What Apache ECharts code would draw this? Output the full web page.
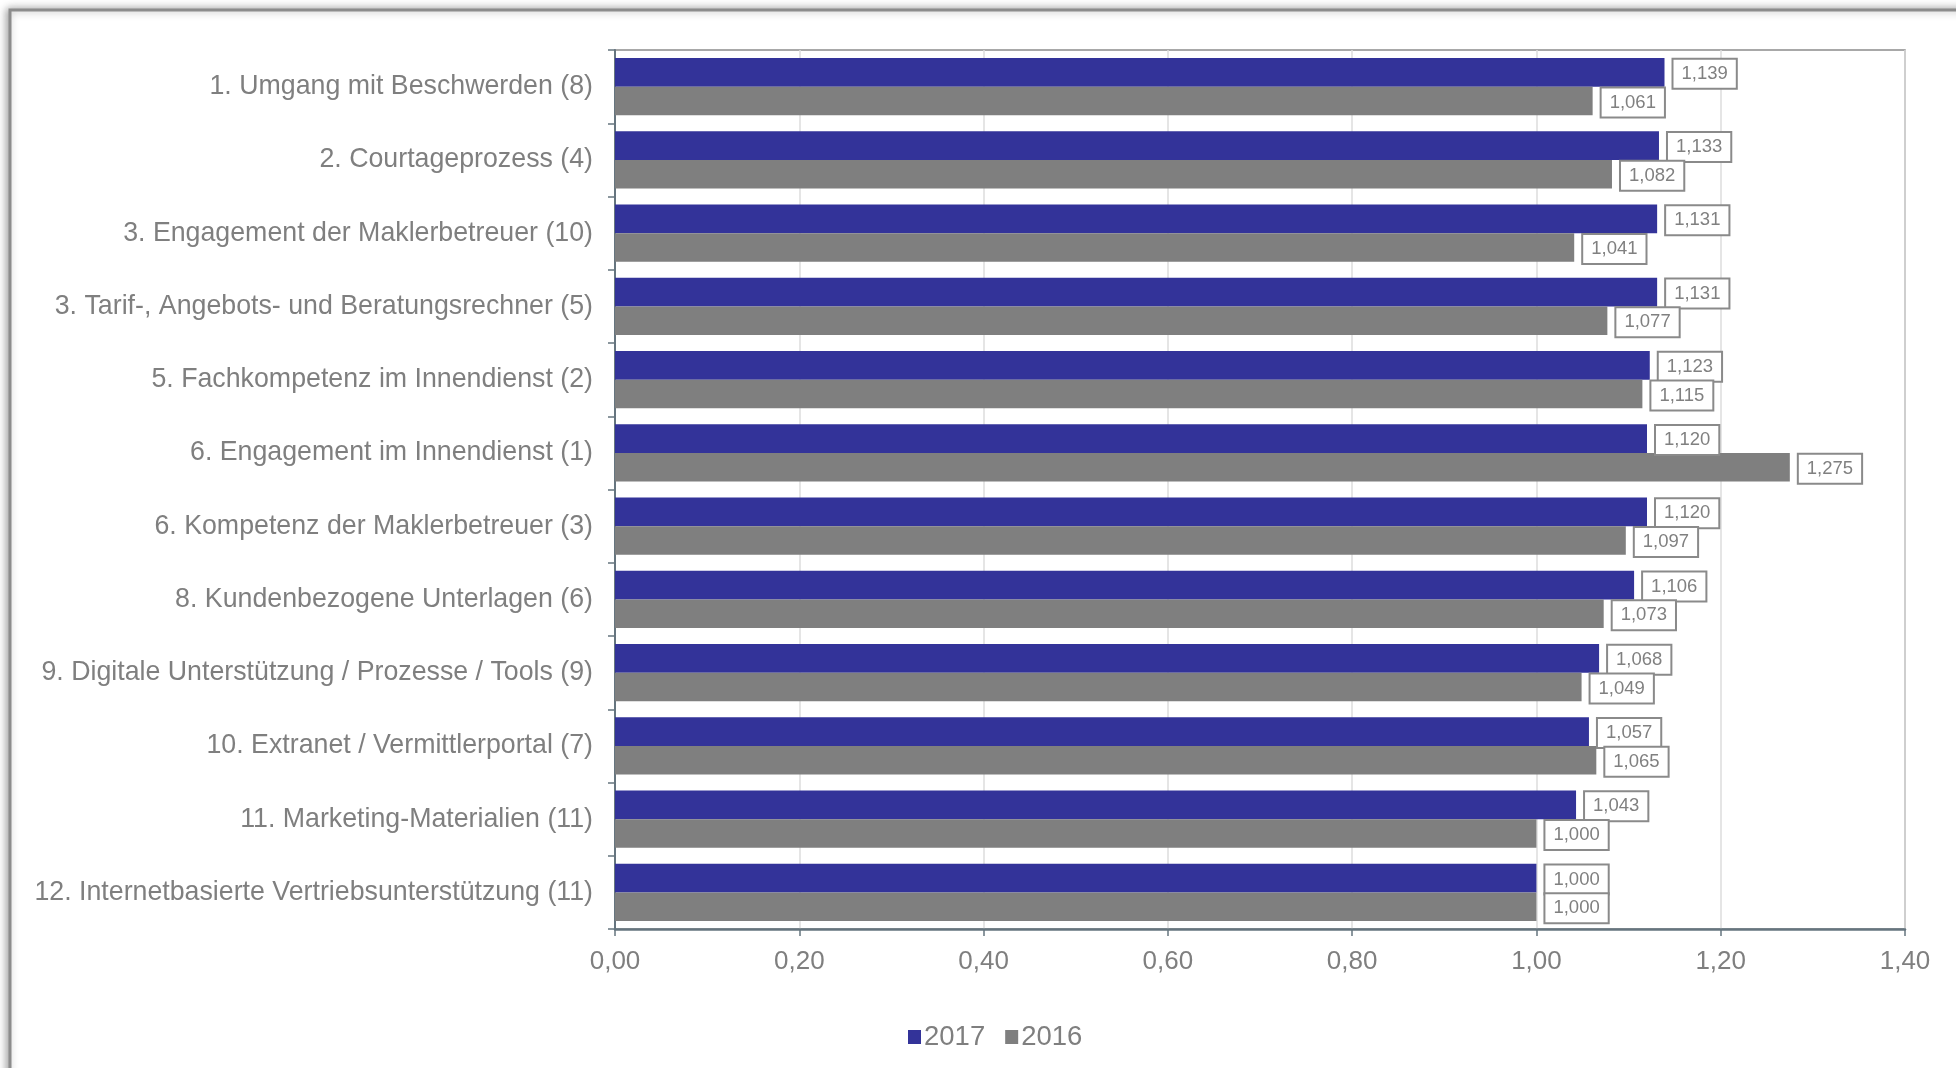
<!DOCTYPE html>
<html>
<head>
<meta charset="utf-8">
<script src="https://cdn.jsdelivr.net/npm/echarts@6/dist/echarts.min.js"></script>
<style>
html,body{margin:0;padding:0;background:#fff;}
#c{width:1956px;height:1068px;}
</style>
</head>
<body>
<div id="c"></div>
<script>
const categories = [
  "1. Umgang mit Beschwerden (8)",
  "2. Courtageprozess (4)",
  "3. Engagement der Maklerbetreuer (10)",
  "3. Tarif-, Angebots- und Beratungsrechner (5)",
  "5. Fachkompetenz im Innendienst (2)",
  "6. Engagement im Innendienst (1)",
  "6. Kompetenz der Maklerbetreuer (3)",
  "8. Kundenbezogene Unterlagen (6)",
  "9. Digitale Unterstützung / Prozesse / Tools (9)",
  "10. Extranet / Vermittlerportal (7)",
  "11. Marketing-Materialien (11)",
  "12. Internetbasierte Vertriebsunterstützung (11)"
];
const values2017 = [1.139, 1.133, 1.131, 1.131, 1.123, 1.120, 1.120, 1.106, 1.068, 1.057, 1.043, 1.000];
const values2016 = [1.061, 1.082, 1.041, 1.077, 1.115, 1.275, 1.097, 1.073, 1.049, 1.065, 1.000, 1.000];
const seriesNames = ["2017", "2016"];
const xTicks = [0, 0.2, 0.4, 0.6, 0.8, 1.0, 1.2, 1.4];

const FONT = 'Liberation Sans, Arial, sans-serif';
const TXT = '#7f7f7f';
const AXIS = '#66757f';

const labelCfg = {
  show: true,
  position: 'right',
  distance: 9,
  offset: [0, 1.5],
  formatter: p => p.value.toFixed(3).replace('.', ','),
  color: '#808080',
  fontFamily: FONT,
  fontSize: 18.5,
  lineHeight: 18,
  backgroundColor: '#fff',
  borderColor: '#8a8a8a',
  borderWidth: 2,
  padding: [5, 8]
};

const chart = echarts.init(document.getElementById('c'), null, {renderer: 'canvas'});
chart.setOption({
  animation: false,
  backgroundColor: '#fff',
  graphic: [{
    type: 'rect',
    z: -10,
    shape: {x: 10, y: 10, width: 2000, height: 1200},
    style: {fill: '#fff', stroke: '#8c8c8c', lineWidth: 3,
            shadowBlur: 8, shadowColor: 'rgba(0,0,0,0.35)', shadowOffsetX: -2, shadowOffsetY: 0}
  }],
  grid: {
    left: 615, right: 51, top: 50, bottom: 139,
    show: true, borderColor: '#8c8c8c', borderWidth: 1.5, backgroundColor: 'transparent'
  },
  legend: {
    data: seriesNames,
    left: 903,
    top: 1018,
    icon: 'rect',
    itemWidth: 13,
    itemHeight: 14,
    itemGap: 20,
    textStyle: {fontFamily: FONT, fontSize: 27.5, color: TXT, padding: [0, 0, 0, -2]}
  },
  xAxis: {
    type: 'value',
    min: 0, max: 1.4, interval: 0.2,
    axisLine: {show: true, lineStyle: {color: AXIS, width: 2.5}},
    axisTick: {show: true, length: 7, lineStyle: {color: AXIS, width: 1.5}},
    splitLine: {show: true, lineStyle: {color: '#dcdcdc', width: 1.5}},
    axisLabel: {
      margin: 20,
      fontFamily: FONT, fontSize: 26, color: TXT,
      customValues: xTicks,
      formatter: v => v.toFixed(2).replace('.', ',')
    }
  },
  yAxis: {
    type: 'category',
    inverse: true,
    data: categories,
    axisLine: {show: true, lineStyle: {color: AXIS, width: 2}},
    axisTick: {show: true, length: 7, lineStyle: {color: AXIS, width: 1.5}},
    splitLine: {show: false},
    axisLabel: {margin: 22, fontFamily: FONT, fontSize: 26.75, color: TXT}
  },
  series: [
    {
      name: seriesNames[0], type: 'bar', data: values2017,
      barCategoryGap: '22%', barGap: '0%',
      itemStyle: {color: '#333399'},
      label: labelCfg
    },
    {
      name: seriesNames[1], type: 'bar', data: values2016,
      barCategoryGap: '22%', barGap: '0%',
      itemStyle: {color: '#7f7f7f'},
      label: labelCfg
    }
  ]
});
</script>
</body>
</html>
